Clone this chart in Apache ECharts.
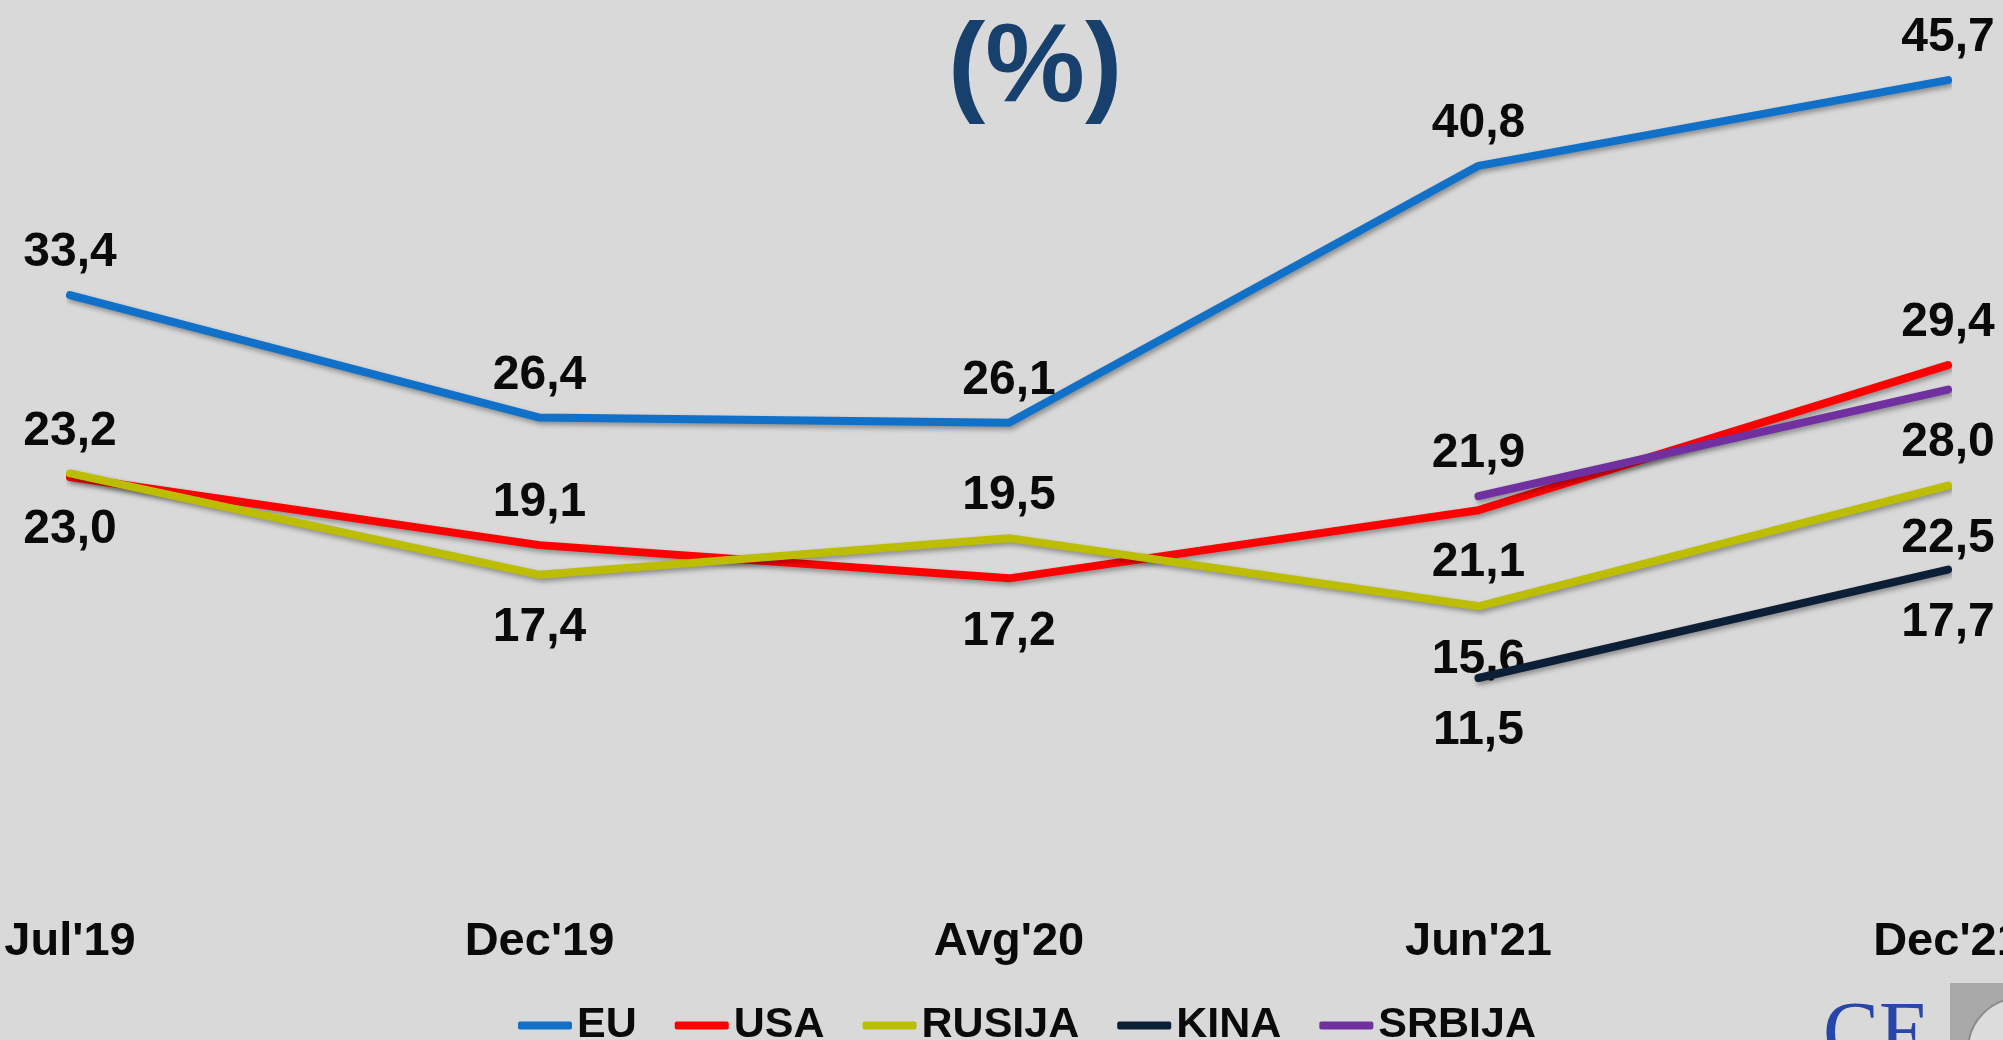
<!DOCTYPE html>
<html>
<head>
<meta charset="utf-8">
<script src="https://cdn.jsdelivr.net/npm/echarts@6/dist/echarts.min.js"></script>
<style>
  html, body { margin: 0; padding: 0; background: #d9d9d9; }
  #chart { width: 2003px; height: 1040px; }
</style>
</head>
<body>
<div id="chart"></div>
<script>
// Survey periods
const categories = ["Jul'19", "Dec'19", "Avg'20", "Jun'21", "Dec'21"];

// Share of respondents (%) per partner
const euValues     = [33.4, 26.4, 26.1, 40.8, 45.7];
const usaValues    = [23.0, 19.1, 17.2, 21.1, 29.4];
const rusijaValues = [23.2, 17.4, 19.5, 15.6, 22.5];
const kinaValues   = [null, null, null, 11.5, 17.7];
const srbijaValues = [null, null, null, 21.9, 28.0];

const seriesNames  = ['EU', 'USA', 'RUSIJA', 'KINA', 'SRBIJA'];
const seriesColors = ['#1170c8', '#ff0000', '#bdbd00', '#0d1f36', '#7030a0'];
const seriesValues = [euValues, usaValues, rusijaValues, kinaValues, srbijaValues];

const fmt = v => v.toFixed(1).replace('.', ',');
const FONT = 'Liberation Sans, Arial, sans-serif';

// At each period, the two highest values get their label above the line,
// the rest below it.
function labelAbove(sIdx, cIdx) {
  const v = seriesValues[sIdx][cIdx];
  let higher = 0;
  seriesValues.forEach((arr, k) => {
    if (k !== sIdx && arr[cIdx] != null && arr[cIdx] > v) higher++;
  });
  return higher < 2;
}

const series = seriesNames.map((name, sIdx) => ({
  name,
  type: 'line',
  symbol: 'circle',
  symbolSize: 0,
  showSymbol: true,
  silent: true,
  z: 2 + sIdx,
  lineStyle: {
    width: 8,
    color: seriesColors[sIdx],
    cap: 'round',
    join: 'round',
    shadowColor: 'rgba(0,0,0,0.35)',
    shadowBlur: 5,
    shadowOffsetX: 2,
    shadowOffsetY: 3
  },
  itemStyle: { color: seriesColors[sIdx] },
  emphasis: { disabled: true },
  data: seriesValues[sIdx].map((v, cIdx) => v == null ? null : {
    value: v,
    label: {
      show: true,
      position: 'inside',
      offset: [0, labelAbove(sIdx, cIdx) ? -42 : 53],
      formatter: () => fmt(v),
      fontFamily: FONT,
      fontWeight: 'bold',
      fontSize: 48,
      color: '#0a0a0a'
    }
  })
}));

const chart = echarts.init(document.getElementById('chart'), null, { renderer: 'canvas' });

chart.setOption({
  backgroundColor: '#d9d9d9',
  animation: false,
  grid: {
    left: 70, right: 55, top: 5, bottom: 161,
    containLabel: false,
    outerBoundsMode: 'none'
  },
  xAxis: {
    type: 'category',
    data: categories,
    boundaryGap: false,
    axisLine: { show: false },
    axisTick: { show: false },
    splitLine: { show: false },
    axisLabel: {
      interval: 0,
      margin: 40,
      fontFamily: FONT,
      fontWeight: 'bold',
      fontSize: 47,
      color: '#0a0a0a',
      hideOverlap: false
    }
  },
  yAxis: {
    type: 'value',
    min: 0,
    max: 50,
    show: false
  },
  legend: {
    data: seriesNames,
    left: 513,
    top: 999,
    icon: 'roundRect',
    itemWidth: 54,
    itemHeight: 8,
    itemGap: 38,
    selectedMode: false,
    textStyle: {
      fontFamily: FONT,
      fontWeight: 'bold',
      fontSize: 43,
      color: '#0a0a0a'
    }
  },
  graphic: [
    {
      type: 'text',
      left: 1036 - 88,
      top: 14,
      style: {
        text: '(%)',
        fontFamily: FONT,
        fontWeight: 'bold',
        fontSize: 112,
        fill: '#17406d'
      }
    },
    {
      type: 'rect',
      shape: { x: 1950, y: 983, width: 60, height: 70 },
      style: { fill: '#a9a9a9' }
    },
    {
      type: 'circle',
      shape: { cx: 2020, cy: 1050, r: 52 },
      style: { fill: '#dcdcdc', stroke: '#8c8c8c', lineWidth: 2 }
    },
    {
      type: 'text',
      x: 1823,
      y: 996,
      style: {
        text: 'CE',
        fontFamily: 'Liberation Serif, Times New Roman, serif',
        fontSize: 84,
        fill: '#2746a8'
      }
    }
  ],
  series
});
</script>
</body>
</html>
